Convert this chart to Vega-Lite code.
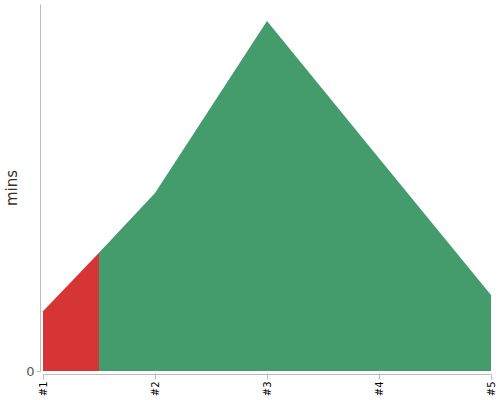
{
  "$schema": "https://vega.github.io/schema/vega-lite/v6.json",
  "width": 448,
  "height": 367,
  "autosize": "none",
  "padding": {"left": 43, "top": 4, "right": 9, "bottom": 29},
  "background": "white",
  "config": {"view": {"stroke": null}},
  "data": {
    "values": [
      {"run": 1, "mins": 16.3, "segment": "a"},
      {"run": 1.5, "mins": 32.2, "segment": "a"},
      {"run": 1.5, "mins": 32.2, "segment": "b"},
      {"run": 2, "mins": 48.5, "segment": "b"},
      {"run": 3, "mins": 95.4, "segment": "b"},
      {"run": 4, "mins": 58.0, "segment": "b"},
      {"run": 5, "mins": 20.7, "segment": "b"}
    ]
  },
  "mark": {"type": "area", "interpolate": "linear"},
  "encoding": {
    "x": {
      "field": "run",
      "type": "quantitative",
      "scale": {"domain": [1, 5], "nice": false, "zero": false},
      "axis": {
        "title": null,
        "values": [1, 2, 3, 4, 5],
        "labelExpr": "'#' + datum.value",
        "labelAngle": 270,
        "labelAlign": "right",
        "labelBaseline": "middle",
        "labelColor": "#000",
        "labelFontSize": 10,
        "labelFont": "DejaVu Sans",
        "domainColor": "#bbb",
        "tickColor": "#bbb",
        "tickSize": 5,
        "grid": false,
        "offset": 3
      }
    },
    "y": {
      "field": "mins",
      "type": "quantitative",
      "stack": null,
      "scale": {"domain": [0, 100], "nice": false},
      "axis": {
        "title": "mins",
        "titleFont": "DejaVu Sans",
        "titleFontSize": 15,
        "titleFontWeight": "normal",
        "titleColor": "#333",
        "titlePadding": 6,
        "values": [0],
        "labelColor": "#555",
        "labelFontSize": 13,
        "labelFont": "DejaVu Sans",
        "domainColor": "#bbb",
        "tickColor": "#bbb",
        "tickSize": 4,
        "grid": false,
        "offset": 3
      }
    },
    "color": {
      "field": "segment",
      "type": "nominal",
      "scale": {"domain": ["a", "b"], "range": ["#d73535", "#449c6c"]},
      "legend": null
    }
  }
}
